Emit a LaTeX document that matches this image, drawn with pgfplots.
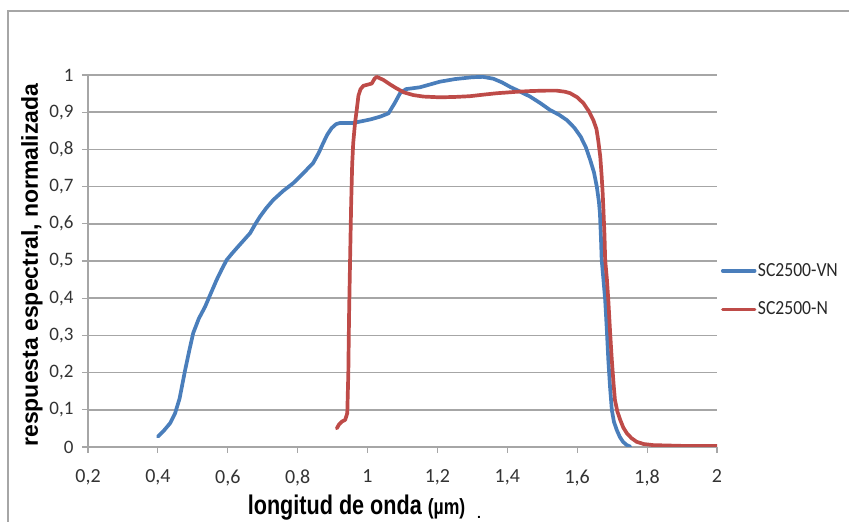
\documentclass[border=0pt]{standalone}
\usepackage{pgfplots}
\pgfplotsset{compat=1.18}
\usepackage{fontspec}
\setmainfont{Liberation Sans}
\newfontfamily\calib{Carlito}
\newfontfamily\calibn{Carlito}[FakeStretch=0.88]
\newfontfamily\arialn{Liberation Sans}[FakeStretch=0.8]
\definecolor{xblue}{HTML}{4A7EBB}
\definecolor{xred}{HTML}{BE4B48}
\definecolor{xgrid}{HTML}{A6A6A6}
\begin{document}
\begin{tikzpicture}[x=1pt,y=1pt]
\useasboundingbox (0,0) rectangle (849,522);
\draw[xgrid, line width=2pt] (8,-2) -- (8,511) -- (851,511);
\begin{axis}[
  at={(88pt,75pt)}, anchor=south west,
  scale only axis, width=629pt, height=372pt,
  xmin=0.2, xmax=2, ymin=0, ymax=1,
  xtick={0.2,0.4,0.6,0.8,1,1.2,1.4,1.6,1.8,2},
  ytick={0,0.1,0.2,0.3,0.4,0.5,0.6,0.7,0.8,0.9,1},
  axis x line*=bottom, axis y line*=left,
  axis line style={xgrid, line width=1.5pt, -},
  ymajorgrids, grid style={xgrid, line width=1.5pt},
  tick style={xgrid, line width=1.2pt},
  major tick length=6pt, tick align=outside,
  /pgf/number format/use comma,
  /pgf/number format/assume math mode=true,
  xticklabel style={font=\calib\fontsize{20}{20}\selectfont, text=black!80, yshift=-13pt},
  yticklabel style={font=\calib\fontsize{19}{19}\selectfont, text=black!80, xshift=-5pt},
  xlabel={\arialn\bfseries\fontsize{27}{27}\selectfont longitud de onda {\fontsize{22}{22}\selectfont(µm)}},
  xlabel style={at={(axis description cs:0.427,0)}, anchor=base, yshift=-67pt},
  ylabel={\bfseries\fontsize{23}{23}\selectfont respuesta espectral, normalizada},
  ylabel style={at={(axis description cs:-0.089,0.489)}, anchor=center},
  legend style={at={(axis description cs:1.006,0.422)}, anchor=west, draw=none, fill=none,
    font=\calibn\fontsize{20}{20}\selectfont, text=black!85,
    row sep=21pt, inner sep=0pt, nodes={inner sep=1.5pt}},
  legend cell align=left,
  legend image code/.code={\draw[#1, line width=3.5pt] (0pt,0pt) -- (32pt,0pt);},
  every axis plot/.append style={line width=3.7pt, line join=round, line cap=round},
]
\addplot[xblue] coordinates {
(0.400,0.028) (0.418,0.045) (0.435,0.064) (0.449,0.090) (0.462,0.130) (0.478,0.207)
(0.490,0.260) (0.501,0.306) (0.517,0.345) (0.535,0.377) (0.551,0.412) (0.568,0.449)
(0.583,0.478) (0.597,0.503) (0.612,0.520) (0.626,0.535) (0.645,0.555) (0.664,0.575)
(0.678,0.598) (0.692,0.619) (0.710,0.642) (0.730,0.664) (0.758,0.688) (0.787,0.709)
(0.815,0.735) (0.844,0.763) (0.860,0.790) (0.873,0.817) (0.885,0.840) (0.897,0.857)
(0.910,0.868) (0.921,0.871) (0.958,0.871) (0.985,0.876) (1.010,0.881) (1.036,0.888)
(1.060,0.897) (1.078,0.925) (1.093,0.951) (1.110,0.962) (1.150,0.967) (1.207,0.982)
(1.250,0.989) (1.300,0.994) (1.330,0.995) (1.360,0.990) (1.385,0.980) (1.408,0.968)
(1.435,0.956) (1.465,0.942) (1.495,0.924) (1.522,0.906) (1.548,0.893) (1.570,0.879)
(1.592,0.858) (1.610,0.834) (1.625,0.805) (1.637,0.772) (1.648,0.738) (1.656,0.700)
(1.662,0.660) (1.665,0.628) (1.668,0.560) (1.670,0.503) (1.675,0.450) (1.680,0.395)
(1.685,0.310) (1.689,0.234) (1.694,0.160) (1.699,0.100) (1.705,0.068) (1.713,0.046)
(1.722,0.027) (1.731,0.014) (1.742,0.005) (1.752,0.001)
};
\addlegendentry{SC2500-VN}
\addplot[xred] coordinates {
(0.912,0.050) (0.918,0.060) (0.926,0.068) (0.936,0.073) (0.942,0.091) (0.945,0.200)
(0.947,0.350) (0.950,0.503) (0.953,0.650) (0.956,0.760) (0.959,0.817) (0.964,0.870)
(0.969,0.906) (0.974,0.945) (0.980,0.962) (0.988,0.971) (1.000,0.974) (1.012,0.977)
(1.020,0.990) (1.026,0.995) (1.045,0.987) (1.064,0.975) (1.083,0.964) (1.105,0.953)
(1.131,0.946) (1.160,0.942) (1.207,0.940) (1.250,0.941) (1.293,0.943) (1.330,0.947)
(1.370,0.951) (1.400,0.953) (1.427,0.955) (1.470,0.957) (1.513,0.958) (1.541,0.958)
(1.565,0.955) (1.580,0.951) (1.600,0.940) (1.618,0.924) (1.633,0.903) (1.646,0.879)
(1.655,0.855) (1.660,0.825) (1.666,0.780) (1.670,0.727) (1.673,0.680) (1.675,0.637)
(1.678,0.570) (1.680,0.503) (1.685,0.450) (1.689,0.395) (1.694,0.310) (1.699,0.234)
(1.704,0.170) (1.708,0.126) (1.715,0.095) (1.723,0.073) (1.732,0.052) (1.742,0.037)
(1.755,0.024) (1.770,0.014) (1.790,0.008) (1.818,0.005) (1.860,0.004) (1.900,0.003)
(1.950,0.003) (2.000,0.003)
};
\addlegendentry{SC2500-N}
\end{axis}
\node[anchor=base, inner sep=0pt, font=\bfseries\fontsize{14}{14}\selectfont] at (479,3) {.};
\end{tikzpicture}
\end{document}
